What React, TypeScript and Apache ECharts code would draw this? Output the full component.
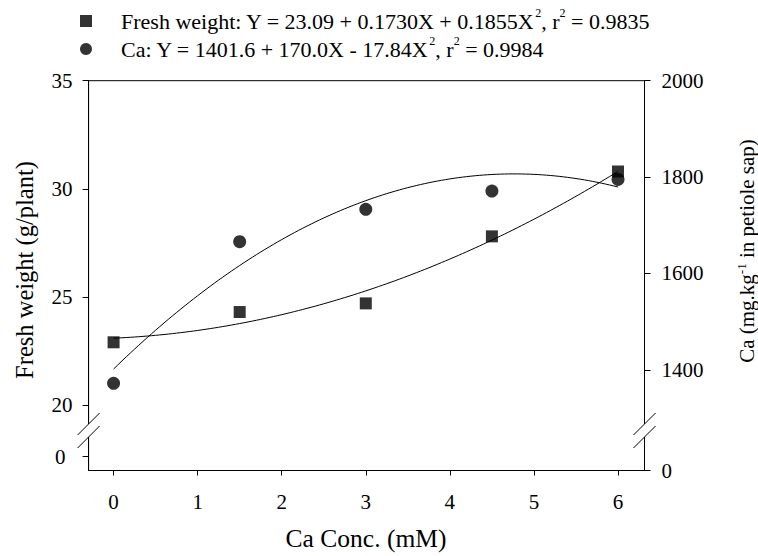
import React, { useEffect, useRef } from "react";
import * as echarts from "echarts";

// ---- data ----
const caConc = [0, 1.5, 3, 4.5, 6];
const freshWeight = [22.9, 24.3, 24.7, 27.8, 30.8];
const caSap = [1372, 1666, 1733, 1771, 1795];
// regression coefficients printed in the legend: a + bX + cX^2
const freshFit = [23.09, 0.173, 0.1855];
const caFit = [1401.6, 170.0, -17.84];
const xTicks = [0, 1, 2, 3, 4, 5, 6];
const leftTicks = [20, 25, 30, 35];
const rightTicks = [1400, 1600, 1800, 2000];
const legendTexts = [
  "Fresh weight: Y = 23.09 + 0.1730X + 0.1855X{sup|2}, r{sup|2} = 0.9835",
  "Ca: Y = 1401.6 + 170.0X - 17.84X{sup|2}, r{sup|2} = 0.9984",
];

// ---- layout (broken axes) ----
const W = 758;
const H = 556;
const GL = 88.6;
const GR = 644.5;
const GT = 80.7;
const GB = 470.5;
const LEFT_MIN = 16.97;
const LEFT_ZERO_POS = 17.61; // where the "0" below the break sits
const RIGHT_MIN = 1191;
const X_MIN = -0.297;
const X_MAX = 6.315;
const BREAK_Y1 = 424;
const BREAK_Y2 = 437;

const FONT = "Liberation Serif";

function fitCurve(coef: number[]) {
  const pts: number[][] = [];
  for (let i = 0; i <= 120; i++) {
    const x = i * 0.05;
    pts.push([x, coef[0] + coef[1] * x + coef[2] * x * x]);
  }
  return pts;
}

function breakMarks(x: number) {
  const d = 11;
  return [
    {
      type: "rect",
      z: 100,
      shape: { x: x - 2, y: BREAK_Y1, width: 4, height: BREAK_Y2 - BREAK_Y1 },
      style: { fill: "#fff" },
    },
    {
      type: "line",
      z: 101,
      shape: { x1: x - d, y1: BREAK_Y1 + d, x2: x + d, y2: BREAK_Y1 - d },
      style: { stroke: "#000", lineWidth: 1 },
    },
    {
      type: "line",
      z: 101,
      shape: { x1: x - d, y1: BREAK_Y2 + d, x2: x + d, y2: BREAK_Y2 - d },
      style: { stroke: "#000", lineWidth: 1 },
    },
  ];
}

export default function App() {
  const ref = useRef<HTMLDivElement>(null);
  useEffect(() => {
    if (!ref.current) return;
    const chart = echarts.init(ref.current, null, { renderer: "svg" });
    const labelStyle = { fontFamily: FONT, fontSize: 21, color: "#000" };
    chart.setOption({
      animation: false,
      backgroundColor: "#fff",
      textStyle: { fontFamily: FONT },
      grid: {
        left: GL,
        right: W - GR,
        top: GT,
        bottom: H - GB,
        show: true,
        borderColor: "#000",
        borderWidth: 1,
        backgroundColor: "transparent",
      },
      legend: {
        orient: "vertical",
        left: 80,
        top: 7,
        padding: 0,
        itemWidth: 60,
        itemHeight: 12,
        itemGap: 0,
        selectedMode: false,
        data: [
          { name: "Fresh weight", icon: "path://M0,0h12v12h-12z" },
          { name: "Ca", icon: "circle" },
        ],
        formatter: (name: string) => (name === "Ca" ? legendTexts[1] : legendTexts[0]),
        textStyle: {
          fontFamily: FONT,
          fontSize: 22,
          color: "#000",
          lineHeight: 28,
          rich: {
            sup: { fontFamily: FONT, fontSize: 12, color: "#000", verticalAlign: "top", lineHeight: 24 },
          },
        },
      },
      xAxis: {
        type: "value",
        min: X_MIN,
        max: X_MAX,
        axisLine: { show: true, onZero: false, lineStyle: { color: "#000", width: 1 } },
        axisTick: { show: true, length: 5, customValues: xTicks, lineStyle: { color: "#000" } },
        axisLabel: { ...labelStyle, margin: 21, customValues: xTicks },
        splitLine: { show: false },
      },
      yAxis: [
        {
          type: "value",
          position: "left",
          min: LEFT_MIN,
          max: 35,
          axisLine: { show: true, onZero: false, lineStyle: { color: "#000", width: 1 } },
          axisTick: { show: true, length: 6, customValues: [LEFT_ZERO_POS, ...leftTicks], lineStyle: { color: "#000" } },
          axisLabel: {
            ...labelStyle,
            margin: 16,
            customValues: [LEFT_ZERO_POS, ...leftTicks],
            formatter: (v: number) => (v < 19 ? "{z|0}" : String(Math.round(v))),
            rich: { z: { ...labelStyle, padding: [0, 7, 0, 0] } },
          },
          splitLine: { show: false },
        },
        {
          type: "value",
          position: "right",
          min: RIGHT_MIN,
          max: 2000,
          axisLine: { show: true, onZero: false, lineStyle: { color: "#000", width: 1 } },
          axisTick: { show: true, length: 6, customValues: [RIGHT_MIN, ...rightTicks], lineStyle: { color: "#000" } },
          axisLabel: {
            ...labelStyle,
            margin: 17,
            customValues: [RIGHT_MIN, ...rightTicks],
            formatter: (v: number) => (v < 1300 ? "0" : String(Math.round(v))),
          },
          splitLine: { show: false },
        },
      ],
      series: [
        {
          name: "Fresh fit",
          type: "line",
          yAxisIndex: 0,
          showSymbol: false,
          silent: true,
          lineStyle: { color: "#000", width: 1 },
          data: fitCurve(freshFit),
        },
        {
          name: "Ca fit",
          type: "line",
          yAxisIndex: 1,
          showSymbol: false,
          silent: true,
          lineStyle: { color: "#000", width: 1 },
          data: fitCurve(caFit),
        },
        {
          name: "Fresh weight",
          type: "scatter",
          yAxisIndex: 0,
          symbol: "rect",
          symbolSize: 12,
          itemStyle: { color: "#000" },
          data: caConc.map((x, i) => [x, freshWeight[i]]),
          z: 5,
        },
        {
          name: "Ca",
          type: "scatter",
          yAxisIndex: 1,
          symbol: "circle",
          symbolSize: 13,
          itemStyle: { color: "#000" },
          data: caConc.map((x, i) => [x, caSap[i]]),
          z: 5,
        },
      ],
      graphic: [
        ...breakMarks(GL),
        ...breakMarks(GR),
        {
          type: "text",
          x: 24,
          y: 270,
          rotation: Math.PI / 2,
          style: {
            text: "Fresh weight (g/plant)",
            fontFamily: FONT,
            fontSize: 24.5,
            fill: "#000",
            align: "center",
            verticalAlign: "middle",
          },
        },
        {
          type: "text",
          x: 747,
          y: 251,
          rotation: Math.PI / 2,
          style: {
            text: "Ca (mg.kg{sup|-1} in petiole sap)",
            fontFamily: FONT,
            fontSize: 21,
            fill: "#000",
            align: "center",
            verticalAlign: "middle",
            rich: {
              sup: { fontFamily: FONT, fontSize: 13, fill: "#000", verticalAlign: "top", lineHeight: 24 },
            },
          },
        },
        {
          type: "text",
          x: 366,
          y: 538,
          style: {
            text: "Ca Conc. (mM)",
            fontFamily: FONT,
            fontSize: 25.5,
            fill: "#000",
            align: "center",
            verticalAlign: "middle",
          },
        },
      ],
    });
    return () => chart.dispose();
  }, []);
  return (
    <div
      ref={ref}
      style={{ position: "fixed", left: 0, top: 0, width: W, height: H }}
    />
  );
}
